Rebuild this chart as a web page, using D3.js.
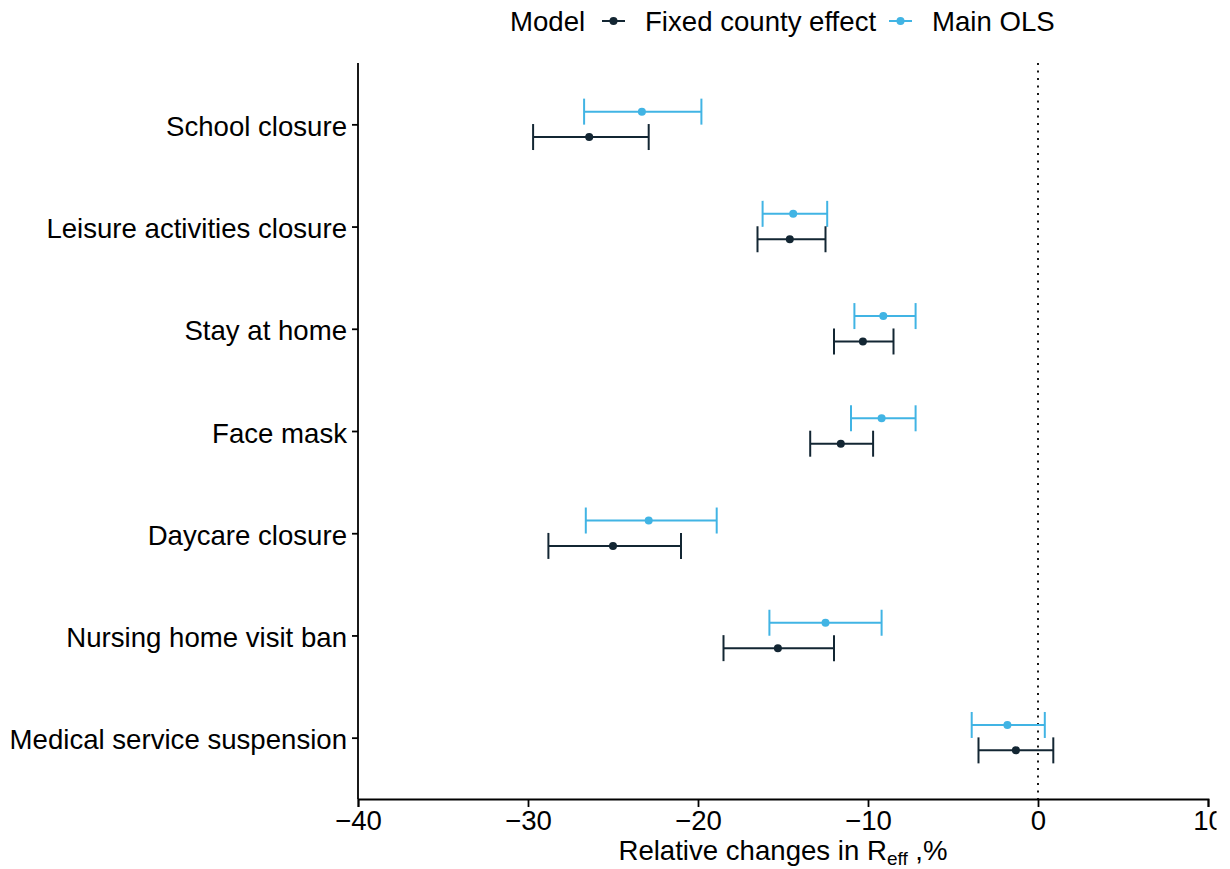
<!DOCTYPE html>
<html>
<head>
<meta charset="utf-8">
<script src="https://cdn.jsdelivr.net/npm/d3@7"></script>
<style>
body { margin: 0; background: #fff; }
text { font-family: "Liberation Sans", Arial, sans-serif; }
</style>
</head>
<body>
<svg id="chart" width="1230" height="869"></svg>
<script>
// data
var categories = ["School closure", "Leisure activities closure", "Stay at home", "Face mask",
                  "Daycare closure", "Nursing home visit ban", "Medical service suspension"];
var models = ["Fixed county effect", "Main OLS"];
var olsEst   = [-23.3, -14.4, -9.1, -9.2, -22.9, -12.5, -1.8];
var olsLow   = [-26.7, -16.2, -10.8, -11.0, -26.6, -15.8, -3.9];
var olsHigh  = [-19.8, -12.4, -7.2, -7.2, -18.9, -9.2, 0.4];
var fixEst   = [-26.4, -14.6, -10.3, -11.6, -25.0, -15.3, -1.3];
var fixLow   = [-29.7, -16.5, -12.0, -13.4, -28.8, -18.5, -3.5];
var fixHigh  = [-22.9, -12.5, -8.5, -9.7, -21.0, -12.0, 0.9];
var xTicks = [-40, -30, -20, -10, 0, 10];

var colors = {"Fixed county effect": "#132633", "Main OLS": "#41b4e4"};

var svg = d3.select("#chart");
var pLeft = 358, pRight = 1208, pTop = 63, pBottom = 799;
var fs = "27.6px";

var x = d3.scaleLinear().domain([-40, 10]).range([pLeft, pRight]);
var y = d3.scalePoint().domain(categories).range([pTop, pBottom]).padding(0.6);
var dodge = d3.scalePoint().domain(["Main OLS", "Fixed county effect"]).range([-12.7, 12.7]);

var rows = [];
categories.forEach(function(c, i){
    rows.push({cat: c, model: "Main OLS", est: olsEst[i], lo: olsLow[i], hi: olsHigh[i]});
    rows.push({cat: c, model: "Fixed county effect", est: fixEst[i], lo: fixLow[i], hi: fixHigh[i]});
});

// zero reference line
svg.append("line")
    .attr("x1", x(0)).attr("x2", x(0))
    .attr("y1", pTop).attr("y2", pBottom)
    .style("stroke", "#000")
    .style("stroke-width", 1.8)
    .style("stroke-dasharray", "2,5.5");

var g = svg.append("g").selectAll("g").data(rows).enter().append("g")
    .attr("transform", function(d){ return "translate(0," + (y(d.cat) + dodge(d.model)) + ")"; });

g.append("line")
    .attr("x1", function(d){ return x(d.lo); })
    .attr("x2", function(d){ return x(d.hi); })
    .style("stroke", function(d){ return colors[d.model]; })
    .style("stroke-width", 2);
g.append("line")
    .attr("x1", function(d){ return x(d.lo); }).attr("x2", function(d){ return x(d.lo); })
    .attr("y1", -13).attr("y2", 13)
    .style("stroke", function(d){ return colors[d.model]; })
    .style("stroke-width", 2);
g.append("line")
    .attr("x1", function(d){ return x(d.hi); }).attr("x2", function(d){ return x(d.hi); })
    .attr("y1", -13).attr("y2", 13)
    .style("stroke", function(d){ return colors[d.model]; })
    .style("stroke-width", 2);
g.append("circle")
    .attr("cx", function(d){ return x(d.est); })
    .attr("r", 4)
    .style("fill", function(d){ return colors[d.model]; });

// axes
var xAxis = svg.append("g")
    .attr("transform", "translate(0," + pBottom + ")")
    .call(d3.axisBottom(x).tickValues(xTicks).tickSizeOuter(0).tickSize(8).tickPadding(3)
        .tickFormat(function(d){ return d < 0 ? "\u2212" + Math.abs(d) : d; }));
xAxis.select(".domain").style("stroke-width", 1.8);
xAxis.selectAll(".tick line").style("stroke-width", 1.8);
xAxis.selectAll("text").style("font-size", fs).style("fill", "#000");

// the original picture is cut just right of the last tick label
xAxis.select(".tick:last-of-type").append("clipPath").attr("id", "lastCut")
    .append("rect").attr("x", -30).attr("y", 0).attr("width", 1216 - x(10) + 30).attr("height", 60);
xAxis.select(".tick:last-of-type text").attr("clip-path", "url(#lastCut)");

var yAxis = svg.append("g")
    .attr("transform", "translate(" + pLeft + ",0)")
    .call(d3.axisLeft(y).tickSizeOuter(0).tickSize(6).tickPadding(5));
yAxis.select(".domain").attr("d", "M0," + pTop + "V" + pBottom).style("stroke-width", 1.8);
yAxis.selectAll(".tick line").style("stroke-width", 1.8);
yAxis.selectAll("text").style("font-size", fs).style("fill", "#000").attr("dy", "0.4em");

svg.selectAll(".domain, .tick line").style("stroke", "#000");

// axis title
var title = svg.append("text")
    .attr("x", (pLeft + pRight) / 2)
    .attr("y", 860)
    .attr("text-anchor", "middle")
    .style("font-size", fs);
title.append("tspan").text("Relative changes in R");
title.append("tspan").attr("dy", 5).style("font-size", "19px").text("eff");
title.append("tspan").attr("dy", -5).text(" ,%");

// legend
var leg = svg.append("g").attr("transform", "translate(0,21)");
leg.append("text").attr("x", 510).attr("y", 10).style("font-size", fs).text("Model");
var legItems = [{m: "Fixed county effect", x0: 602, tx: 645}, {m: "Main OLS", x0: 889, tx: 932}];
legItems.forEach(function(it){
    leg.append("line")
        .attr("x1", it.x0).attr("x2", it.x0 + 23)
        .style("stroke", colors[it.m]).style("stroke-width", 2);
    leg.append("circle").attr("cx", it.x0 + 11.5).attr("r", 4).style("fill", colors[it.m]);
    leg.append("text").attr("x", it.tx).attr("y", 10).style("font-size", fs).text(it.m);
});
</script>
</body>
</html>
